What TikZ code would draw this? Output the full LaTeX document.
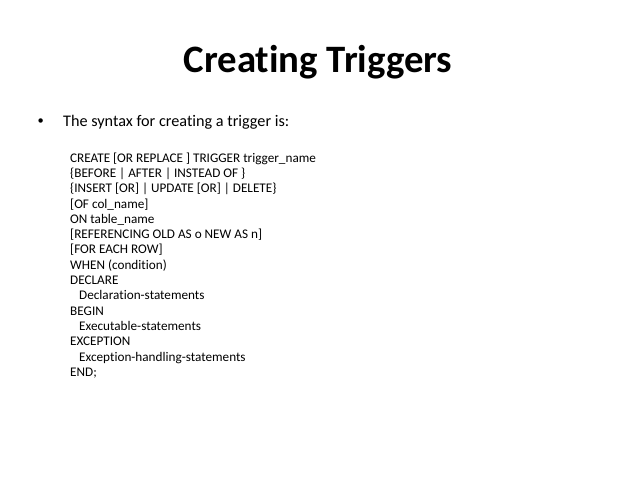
\documentclass[tikz,border=0pt]{standalone}
\usepackage{fontspec}
\setmainfont{Carlito}[Ligatures={NoCommon}]
\begin{document}
\begin{tikzpicture}[x=1pt,y=-1pt,
  codeline/.style={anchor=base west,inner sep=0pt,font=\fontsize{13.2}{15}\selectfont},
  bodytext/.style={anchor=base west,inner sep=0pt,font=\fontsize{16.2}{18}\selectfont}]
\useasboundingbox[fill=white] (0,0) rectangle (638,478);
\node[anchor=base,inner sep=0pt,font=\fontsize{38.8}{42}\bfseries\selectfont] (title) at (318,73) {Creating Triggers};
\node[anchor=center,inner sep=0pt,font=\fontsize{12.5}{14}\selectfont] (bullet) at (40.7,121.7) {•};
\node[bodytext] (intro) at (63,126.5) {The syntax for creating a trigger is:};
\foreach \t [count=\i] in {
  {CREATE [OR REPLACE ] TRIGGER trigger\_name},
  {\{BEFORE | AFTER | INSTEAD OF \}},
  {\{INSERT [OR] | UPDATE [OR] | DELETE\}},
  {[OF col\_name]},
  {ON table\_name},
  {[REFERENCING OLD AS o NEW AS n]},
  {[FOR EACH ROW]},
  {WHEN (condition)},
  {DECLARE},
  {\hspace{9pt}Declaration-statements},
  {BEGIN},
  {\hspace{9pt}Executable-statements},
  {EXCEPTION},
  {\hspace{9pt}Exception-handling-statements},
  {END;}}
  \node[codeline] (line\i) at (70,{162.2+(\i-1)*15.3}) {\t};
\end{tikzpicture}
\end{document}
